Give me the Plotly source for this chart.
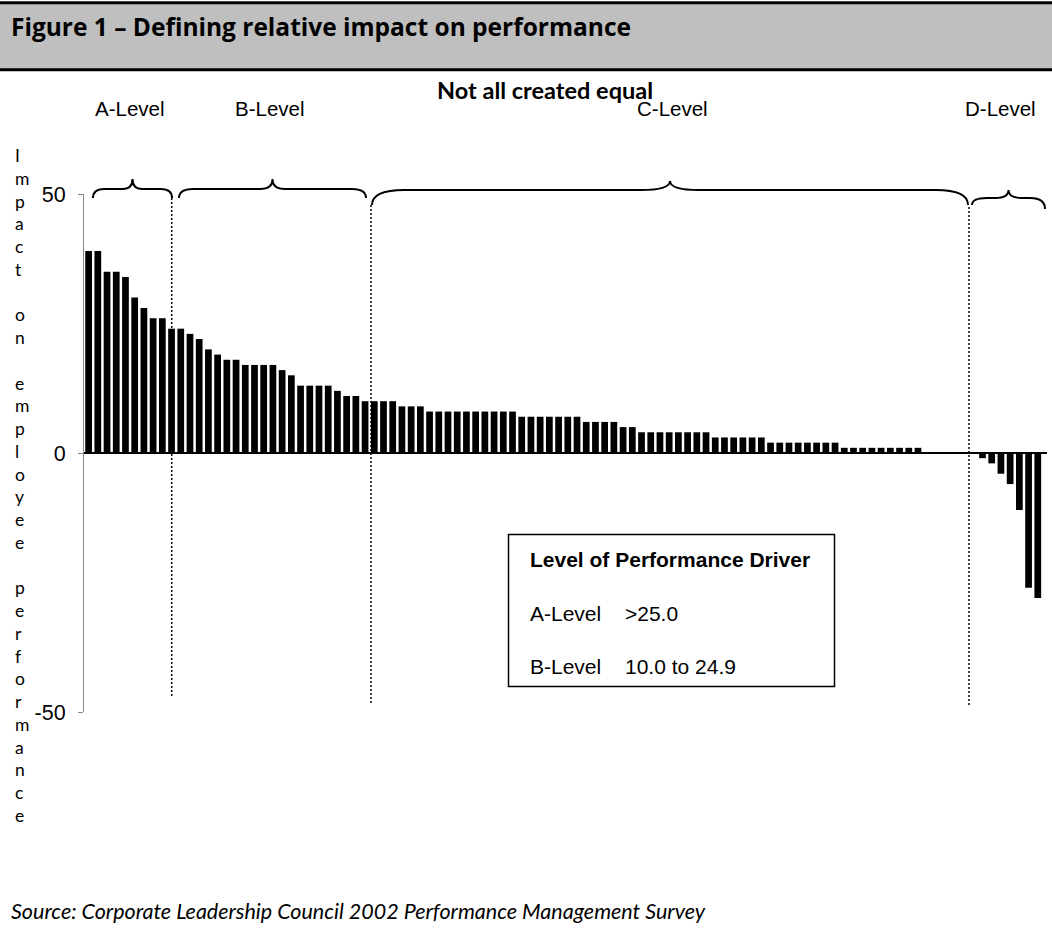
import plotly.graph_objects as go

# ---------------- data ----------------
ranks = list(range(1, 105))
impact = [39, 39, 35, 35, 34, 30, 28, 26, 26, 24,
          24, 23, 22, 20, 19, 18, 18, 17, 17, 17,
          17, 16, 15, 13, 13, 13, 13, 12, 11, 11,
          10, 10, 10, 10, 9, 9, 9, 8, 8, 8,
          8, 8, 8, 8, 8, 8, 8, 7, 7, 7,
          7, 7, 7, 7, 6, 6, 6, 6, 5, 5,
          4, 4, 4, 4, 4, 4, 4, 4, 3, 3,
          3, 3, 3, 3, 2, 2, 2, 2, 2, 2,
          2, 2, 1, 1, 1, 1, 1, 1, 1, 1,
          1, 0, 0, 0, 0, 0, 0, -1, -2, -4,
          -6, -11, -26, -28]

level_names = ["A-Level", "B-Level", "C-Level", "D-Level"]
y_ticks = [-50, 0, 50]
y_title = ["Impact", "on", "employee", "performance"]
legend_title = "Level of Performance Driver"
legend_rows = [("A-Level", ">25.0"), ("B-Level", "10.0 to 24.9")]
fig_title = "Figure 1 \u2013 Defining relative impact on performance"
chart_title = "Not all created equal"
source_text = "Source: Corporate Leadership Council 2002 Performance Management Survey"

# ---------------- layout geometry ----------------
W_FIG, H_FIG = 1052, 949
L, R, T, B = 84, 5, 194, 237
PW = W_FIG - L - R
PH = H_FIG - T - B


def px_x(p):
    return (p - L) / PW


def px_y(p):
    return (H_FIG - B - p) / PH


def rank_at(p):
    # pixel -> rank units of the x axis (range 0.5 .. 105)
    return 0.5 + (p - L) / PW * 104.5


def val_at(py):
    return (H_FIG - B - py) / PH * 100 - 50


ARIAL = "Liberation Sans, Arial, sans-serif"
CAL = "Lato, Carlito, Calibri, sans-serif"
HEAD = "Open Sans, Lato, sans-serif"

fig = go.Figure()
fig.add_trace(go.Bar(x=ranks, y=impact, marker=dict(color="black", line=dict(width=0)),
                     hoverinfo="x+y", showlegend=False))

shapes = []
annotations = []

# header band
shapes.append(dict(type="rect", xref="paper", yref="paper",
                   x0=px_x(0), x1=px_x(W_FIG), y0=px_y(70), y1=px_y(3),
                   fillcolor="#BFBFBF", line=dict(width=0), layer="below"))
for yy in (2.8, 69.8):
    shapes.append(dict(type="line", xref="paper", yref="paper",
                       x0=px_x(0), x1=px_x(W_FIG), y0=px_y(yy), y1=px_y(yy),
                       line=dict(color="black", width=3)))

annotations.append(dict(text="<b>" + fig_title + "</b>", xref="paper", yref="paper",
                        x=px_x(9), y=px_y(26), xanchor="left", yanchor="middle",
                        showarrow=False, font=dict(family=HEAD, size=24.5, color="black")))
annotations.append(dict(text="<b>" + chart_title + "</b>", xref="paper", yref="paper",
                        x=px_x(545), y=px_y(90), xanchor="center", yanchor="middle",
                        showarrow=False, font=dict(family=CAL, size=23.5, color="black")))
annotations.append(dict(text="<i>" + source_text + "</i>", xref="paper", yref="paper",
                        x=px_x(9), y=px_y(911), xanchor="left", yanchor="middle",
                        showarrow=False, font=dict(family=CAL, size=21.5, color="black")))

# stacked vertical y-axis title
lines = []
for wi, w in enumerate(y_title):
    if wi > 0:
        lines.append("\u00a0")
    lines.extend(list(w))
annotations.append(dict(text="<br>".join(lines), xref="paper", yref="paper",
                        x=px_x(13), y=px_y(485), xanchor="left", yanchor="middle",
                        align="left", showarrow=False,
                        font=dict(family=CAL, size=17.5, color="black")))

# level labels
level_label_px = [130, 270, 672, 1000]
for name, p in zip(level_names, level_label_px):
    annotations.append(dict(text=name, xref="x", yref="paper", x=rank_at(p), y=px_y(108),
                            xanchor="center", yanchor="middle", showarrow=False,
                            font=dict(family=ARIAL, size=20.5, color="black")))


# braces
def brace(x0, x1, y_end, y_mid, y_tip, r, y_end2=None):
    if y_end2 is None:
        y_end2 = y_end
    xm = (x0 + x1) / 2
    ye, ym, yt, ye2 = px_y(y_end), px_y(y_mid), px_y(y_tip), px_y(y_end2)
    rt = r * 0.9
    return (f"M {x0},{ye} Q {x0},{ym} {x0 + r},{ym} L {xm - rt},{ym} "
            f"Q {xm},{ym} {xm},{yt} Q {xm},{ym} {xm + rt},{ym} "
            f"L {x1 - r},{ym} Q {x1},{ym} {x1},{ye2}")


brace_specs = [
    (93, 172, 198, 189, 179, 1.2, None),
    (179, 366, 198, 189, 179, 1.5, None),
    (372, 968, 205, 190, 181, 3.5, None),
    (972, 1045, 205, 198, 190, 1.6, 209),
]
for (a, b_, ye, ym, yt, r, ye2) in brace_specs:
    shapes.append(dict(type="path", xref="x", yref="paper",
                       path=brace(rank_at(a), rank_at(b_), ye, ym, yt, r, ye2),
                       line=dict(color="black", width=2)))

# dotted separators
for (p, ytop, ybot) in [(171.7, 198, 697), (371, 205, 705), (969, 207, 705)]:
    shapes.append(dict(type="line", xref="x", yref="y",
                       x0=rank_at(p), x1=rank_at(p), y0=val_at(ytop), y1=val_at(ybot),
                       line=dict(color="black", width=1.5, dash="2px,2px")))

# legend box
shapes.append(dict(type="rect", xref="x", yref="y",
                   x0=rank_at(508.5), x1=rank_at(834.5), y0=val_at(534.5), y1=val_at(686.5),
                   fillcolor="white", line=dict(color="black", width=1.5)))
annotations.append(dict(text="<b>" + legend_title + "</b>", xref="x", yref="y",
                        x=rank_at(528), y=val_at(559), xanchor="left", yanchor="middle",
                        showarrow=False, font=dict(family=ARIAL, size=21, color="black")))
for (lab, rng), py in zip(legend_rows, [613, 666]):
    annotations.append(dict(text=lab, xref="x", yref="y", x=rank_at(528), y=val_at(py),
                            xanchor="left", yanchor="middle", showarrow=False,
                            font=dict(family=ARIAL, size=21, color="black")))
    annotations.append(dict(text=rng, xref="x", yref="y", x=rank_at(623), y=val_at(py),
                            xanchor="left", yanchor="middle", showarrow=False,
                            font=dict(family=ARIAL, size=21, color="black")))

fig.update_layout(
    width=W_FIG, height=H_FIG,
    margin=dict(l=L, r=R, t=T, b=B, pad=0),
    paper_bgcolor="white", plot_bgcolor="white",
    bargap=0.27,
    shapes=shapes, annotations=annotations,
    showlegend=False,
    xaxis=dict(range=[0.5, 105], showticklabels=False, showgrid=False, zeroline=False,
               showline=False, ticks=""),
    yaxis=dict(range=[-50, 50], tickvals=y_ticks, ticktext=[str(v) for v in y_ticks],
               showgrid=False, showline=True, linecolor="#868686", linewidth=1,
               ticks="outside", ticklen=5, tickcolor="#868686", ticklabelstandoff=8,
               tickfont=dict(family=ARIAL, size=21.5, color="black"),
               zeroline=True, zerolinecolor="black", zerolinewidth=1.5),
)

fig.write_html("out.html", config={"displayModeBar": False},
               post_script="document.body.style.margin='0';document.body.style.padding='0';")
